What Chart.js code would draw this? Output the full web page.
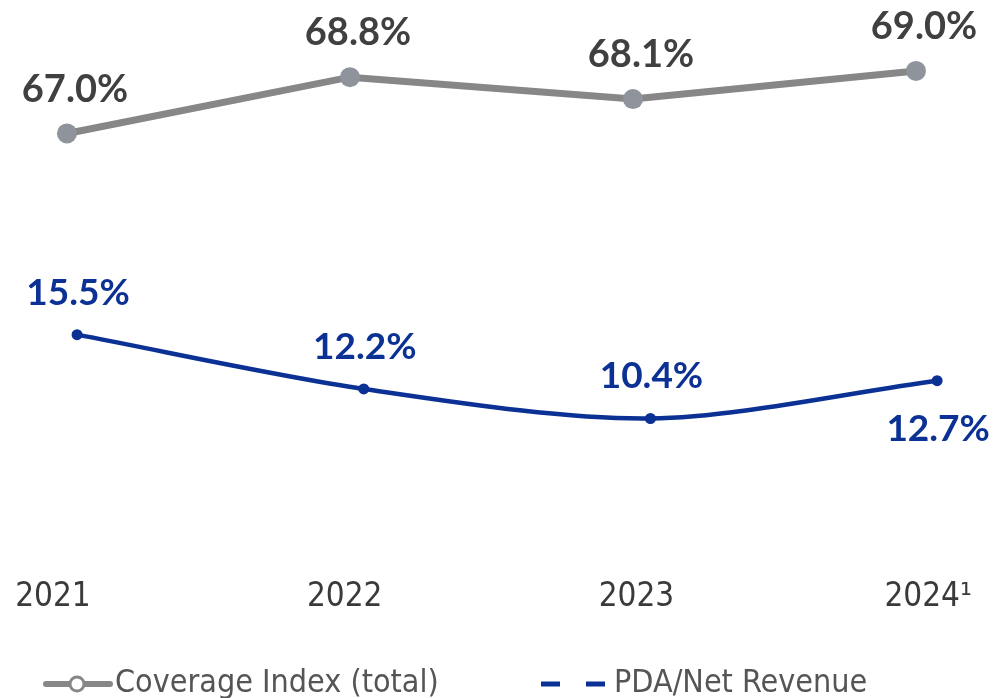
<!DOCTYPE html>
<html>
<head>
<meta charset="utf-8">
<style>
  html, body { margin: 0; padding: 0; background: #fff; }
  #wrap { width: 1005px; height: 698px; position: relative; }
</style>
<script src="https://cdn.jsdelivr.net/npm/chart.js@4.4.1/dist/chart.umd.min.js"></script>
</head>
<body>
<div id="wrap"><canvas id="grafico"></canvas></div>
<script>
// Datos
const anios = ['2021', '2022', '2023', '2024\u00B9'];
const coberturaTotal = [67.0, 68.8, 68.1, 69.0];
const pdaIngresoNeto = [15.5, 12.2, 10.4, 12.7];
const nombresSeries = ['Coverage Index (total)', 'PDA/Net Revenue'];

const GRIS_LINEA = '#878787';
const GRIS_PUNTO = '#8e939c';
const GRIS_TEXTO = '#404040';
const AZUL = '#0b3194';
const FUENTE_NUM = 'Lato, "Open Sans", sans-serif';
const FUENTE_TXT = '"Liberation Sans Narrow", "DejaVu Sans Condensed", "Roboto", sans-serif';

// etiquetas de valor encima / debajo de cada punto
const etiquetasValor = {
    id: 'etiquetasValor',
    afterDatasetsDraw(chart) {
        const ctx = chart.ctx;
        ctx.save();
        ctx.textAlign = 'center';
        ctx.textBaseline = 'middle';
        chart.data.datasets.forEach((ds, i) => {
            const meta = chart.getDatasetMeta(i);
            meta.data.forEach((pt, j) => {
                const valor = ds.data[j].y;
                let dx = 8, dy = -44;
                if (i === 1) {
                    dx = 1; dy = -42;
                    if (j === ds.data.length - 1) { dy = 48; }
                }
                ctx.fillStyle = i === 0 ? GRIS_TEXTO : AZUL;
                ctx.font = 'bold ' + (i === 0 ? 38 : 37) + 'px ' + FUENTE_NUM;
                ctx.fillText(valor.toFixed(1) + '%', pt.x + dx, pt.y + dy);
            });
        });
        ctx.restore();
    }
};

// leyenda dibujada a mano
const leyendaManual = {
    id: 'leyendaManual',
    afterDraw(chart) {
        const ctx = chart.ctx;
        const y = 684;
        ctx.save();
        // gris: linea con circulo hueco
        ctx.strokeStyle = GRIS_LINEA;
        ctx.lineWidth = 6;
        ctx.lineCap = 'round';
        ctx.beginPath();
        ctx.moveTo(46, y);
        ctx.lineTo(110, y);
        ctx.stroke();
        ctx.fillStyle = '#ffffff';
        ctx.lineWidth = 3;
        ctx.beginPath();
        ctx.arc(77, y, 7, 0, Math.PI * 2);
        ctx.fill();
        ctx.stroke();
        // azul: linea discontinua
        ctx.strokeStyle = AZUL;
        ctx.lineWidth = 5;
        ctx.lineCap = 'butt';
        ctx.beginPath();
        ctx.moveTo(541, y); ctx.lineTo(560, y);
        ctx.moveTo(586, y); ctx.lineTo(605, y);
        ctx.stroke();
        // textos
        ctx.fillStyle = '#555555';
        ctx.font = '32px ' + FUENTE_TXT;
        ctx.textBaseline = 'middle';
        ctx.textAlign = 'left';
        ctx.fillText(nombresSeries[0], 115, y);
        ctx.fillText(nombresSeries[1], 614, y);
        ctx.restore();
    }
};

const puntosGris = coberturaTotal.map((v, i) => ({ x: i, y: v }));
const puntosAzul = pdaIngresoNeto.map((v, i) => ({ x: i, y: v }));

const ctx = document.getElementById('grafico').getContext('2d');
new Chart(ctx, {
    type: 'line',
    data: {
        datasets: [{
            label: nombresSeries[0],
            data: puntosGris,
            xAxisID: 'xg',
            yAxisID: 'yg',
            borderColor: GRIS_LINEA,
            borderWidth: 7,
            pointBackgroundColor: GRIS_PUNTO,
            pointBorderColor: GRIS_PUNTO,
            pointRadius: 10,
            pointBorderWidth: 0,
            tension: 0
        }, {
            label: nombresSeries[1],
            data: puntosAzul,
            xAxisID: 'xb',
            yAxisID: 'yb',
            borderColor: AZUL,
            borderWidth: 4.5,
            pointBackgroundColor: AZUL,
            pointBorderColor: AZUL,
            pointRadius: 5.5,
            pointBorderWidth: 0,
            tension: 0.3
        }]
    },
    plugins: [etiquetasValor, leyendaManual],
    options: {
        responsive: true,
        maintainAspectRatio: false,
        animation: false,
        layout: { padding: { left: 20, right: 20, top: 10, bottom: 73 } },
        plugins: {
            legend: { display: false },
            tooltip: { enabled: false }
        },
        scales: {
            x: {
                type: 'linear',
                position: 'bottom',
                min: -0.113,
                max: 3.195,
                afterBuildTicks: (axis) => { axis.ticks = anios.map((_, i) => ({ value: i })); },
                grid: { display: false, drawTicks: false },
                border: { display: false },
                ticks: {
                    autoSkip: false,
                    maxRotation: 0,
                    padding: 8,
                    color: '#3a3a3a',
                    font: { family: FUENTE_TXT, size: 33 },
                    callback: (v) => anios[v]
                }
            },
            xg: { type: 'linear', display: false, min: -0.166, max: 3.244 },
            xb: { type: 'linear', display: false, min: -0.199, max: 3.167 },
            yg: { type: 'linear', display: false, min: 53.05, max: 70.95 },
            yb: { type: 'linear', display: false, min: 1.22, max: 35.25 }
        }
    }
});
</script>
</body>
</html>
